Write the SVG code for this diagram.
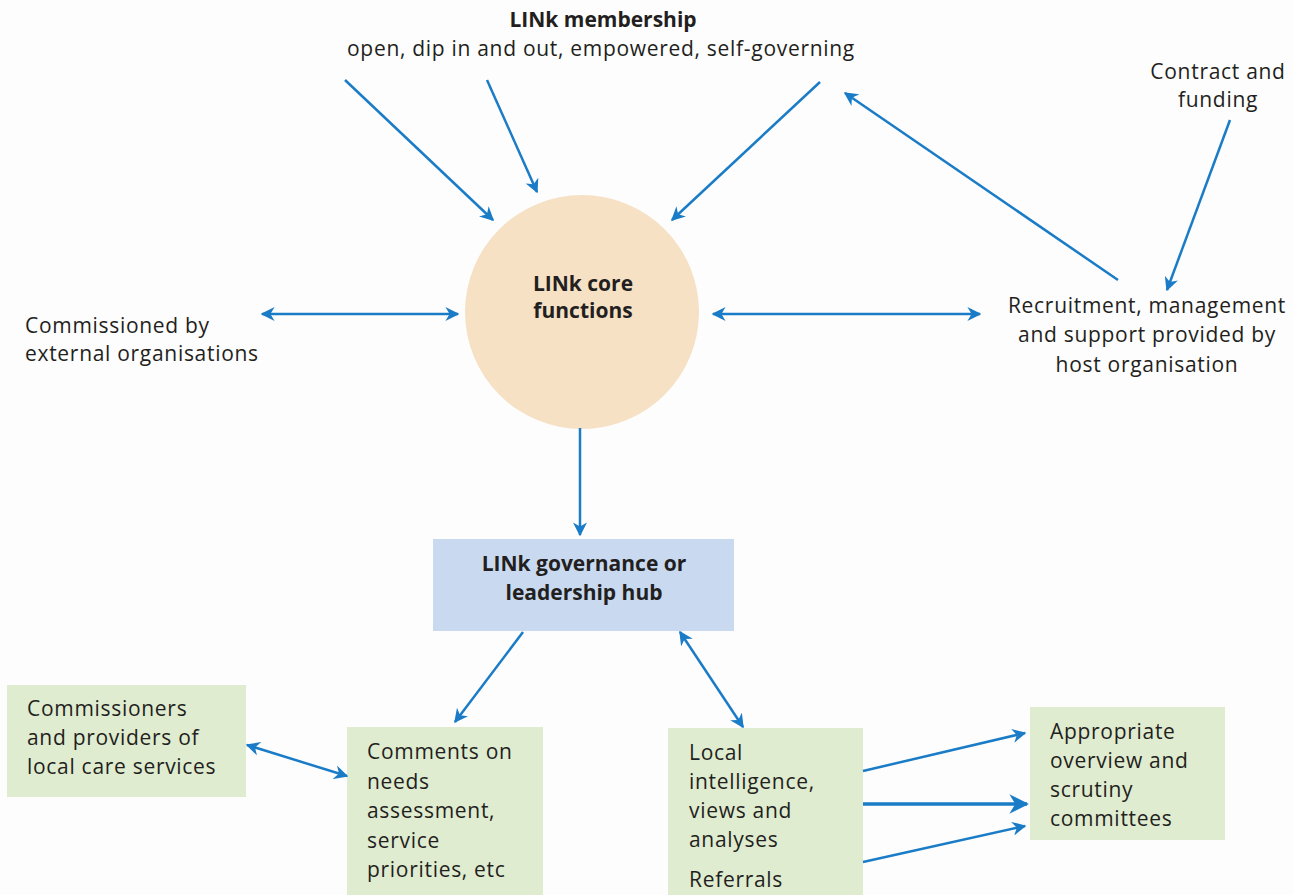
<svg xmlns="http://www.w3.org/2000/svg" width="1294" height="895" viewBox="0 0 1294 895">
<defs>
<style>
text{font-family:"Open Sans","Noto Sans","Liberation Sans",sans-serif;font-size:21px;letter-spacing:0.7px;fill:#231f20}
.b{font-weight:bold;letter-spacing:0}
.m{text-anchor:middle}
.c{stroke:#1a7cc7;stroke-width:2.5;fill:none}
.g{fill:#e0ecd0}
</style>
<marker id="ah" viewBox="0 0 10 10" refX="9" refY="5" markerWidth="5.6" markerHeight="5.6" orient="auto-start-reverse" markerUnits="strokeWidth">
<path d="M0,0 L10,5 L0,10 L3,5 Z" fill="#1a7cc7"/>
</marker>
</defs>
<rect width="1294" height="895" fill="#fdfdfd"/>
<g id="membership">
<text class="m b" x="603" y="27">LINk membership</text>
<text class="m" x="601" y="56">open, dip in and out, empowered, self-governing</text>
</g>
<g id="contract">
<text class="m" x="1218" y="79">Contract and</text>
<text class="m" x="1218" y="107">funding</text>
</g>
<g id="recruitment">
<text class="m" x="1147" y="313">Recruitment, management</text>
<text class="m" x="1147" y="342">and support provided by</text>
<text class="m" x="1147" y="372">host organisation</text>
</g>
<g id="commissioned">
<text x="25" y="333">Commissioned by</text>
<text x="25" y="361">external organisations</text>
</g>
<g id="core">
<circle cx="582" cy="312" r="117" fill="#f6e1c5"/>
<text class="m b" x="583" y="291">LINk core</text>
<text class="m b" x="583" y="318">functions</text>
</g>
<g id="hub">
<rect x="433" y="539" width="301" height="92" fill="#c8d9f0"/>
<text class="m b" x="584" y="571">LINk governance or</text>
<text class="m b" x="584" y="600">leadership hub</text>
</g>
<g id="commissioners">
<rect class="g" x="7" y="685" width="239" height="112"/>
<text x="27" y="716">Commissioners</text>
<text x="27" y="745">and providers of</text>
<text x="27" y="774">local care services</text>
</g>
<g id="comments">
<rect class="g" x="347" y="727" width="196" height="168"/>
<text x="367" y="759">Comments on</text>
<text x="367" y="789">needs</text>
<text x="367" y="818">assessment,</text>
<text x="367" y="848">service</text>
<text x="367" y="877">priorities, etc</text>
</g>
<g id="local">
<rect class="g" x="668" y="728" width="195" height="167"/>
<text x="689" y="760">Local</text>
<text x="689" y="789">intelligence,</text>
<text x="689" y="818">views and</text>
<text x="689" y="847">analyses</text>
<text x="689" y="887">Referrals</text>
</g>
<g id="scrutiny">
<rect class="g" x="1030" y="707" width="195" height="133"/>
<text x="1050" y="739">Appropriate</text>
<text x="1050" y="768">overview and</text>
<text x="1050" y="797">scrutiny</text>
<text x="1050" y="826">committees</text>
</g>
<g id="connectors">
<line class="c" x1="345" y1="80" x2="493" y2="220" marker-end="url(#ah)"/>
<line class="c" x1="487" y1="80" x2="537" y2="192" marker-end="url(#ah)"/>
<line class="c" x1="820" y1="82" x2="672" y2="220" marker-end="url(#ah)"/>
<line class="c" x1="1118" y1="280" x2="845" y2="93" marker-end="url(#ah)"/>
<line class="c" x1="1230" y1="120" x2="1167" y2="290" marker-end="url(#ah)"/>
<line class="c" x1="262" y1="314" x2="458" y2="314" marker-start="url(#ah)" marker-end="url(#ah)"/>
<line class="c" x1="713" y1="314" x2="980" y2="314" marker-start="url(#ah)" marker-end="url(#ah)"/>
<line class="c" x1="580" y1="428" x2="580" y2="535" marker-end="url(#ah)"/>
<line class="c" x1="523" y1="632" x2="455" y2="722" marker-end="url(#ah)"/>
<line class="c" x1="680" y1="632" x2="743" y2="727" marker-start="url(#ah)" marker-end="url(#ah)"/>
<line class="c" x1="247" y1="745" x2="347" y2="776" marker-start="url(#ah)" marker-end="url(#ah)"/>
<line class="c" x1="863" y1="771" x2="1025" y2="733" marker-end="url(#ah)"/>
<line class="c" x1="863" y1="804" x2="1027" y2="804" style="stroke-width:3.5" marker-end="url(#ah)"/>
<line class="c" x1="863" y1="862" x2="1025" y2="826" marker-end="url(#ah)"/>
</g>
</svg>
